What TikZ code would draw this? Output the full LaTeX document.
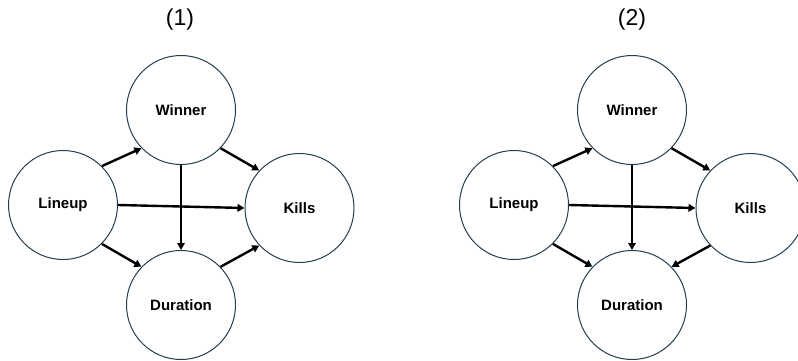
\documentclass[tikz,border=0pt]{standalone}
\usepackage{fontspec}
\setmainfont{Liberation Sans}
\usetikzlibrary{arrows.meta}
\definecolor{ringc}{RGB}{38,62,80}
\begin{document}
\begin{tikzpicture}[x=1pt,y=-1pt,
  var/.style={circle,draw=ringc,line width=1pt,fill=white,minimum size=109pt,inner sep=0pt,font=\fontsize{15}{18}\selectfont\bfseries},
  ttl/.style={font=\fontsize{23}{28}\selectfont},
  edge/.style={line width=2.4pt,-{Triangle[length=7pt,width=7.5pt]}}]
\useasboundingbox (0,0) rectangle (798,361);
% diagram 1
\node[ttl] (t1) at (180,20) {(1)};
\node[var] (w1) at (181,110) {Winner};
\node[var] (l1) at (63,205) {Lineup};
\node[var] (k1) at (299.5,208) {Kills};
\node[var] (d1) at (181,305) {Duration};
\draw[edge] (l1.45) -- (w1.224);
\draw[edge] (w1.-44) -- (k1.137);
\draw[edge] (w1.south) -- (d1.north);
\draw[edge] (l1.east) -- (k1.west);
\draw[edge] (l1.-45) -- (d1.136);
\draw[edge] (d1.44) -- (k1.-137);
% diagram 2
\node[ttl] (t2) at (632,20) {(2)};
\node[var] (w2) at (632,110) {Winner};
\node[var] (l2) at (514,205) {Lineup};
\node[var] (k2) at (750.5,208) {Kills};
\node[var] (d2) at (632,305) {Duration};
\draw[edge] (l2.45) -- (w2.224);
\draw[edge] (w2.-44) -- (k2.137);
\draw[edge] (w2.south) -- (d2.north);
\draw[edge] (l2.east) -- (k2.west);
\draw[edge] (l2.-45) -- (d2.136);
\draw[edge] (k2.-137) -- (d2.44);
\end{tikzpicture}
\end{document}
